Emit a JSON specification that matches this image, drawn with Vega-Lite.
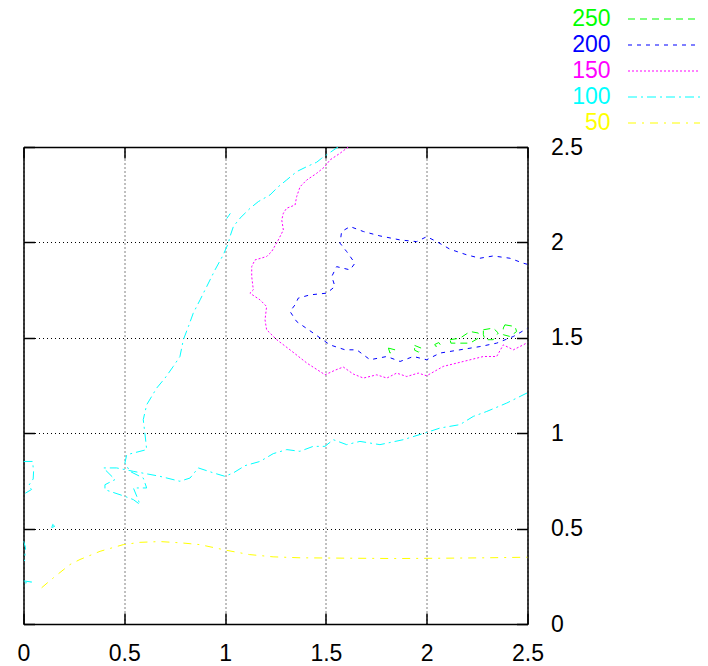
{
  "$schema": "https://vega.github.io/schema/vega-lite/v6.json",
  "width": 504,
  "height": 477,
  "autosize": {"type": "none"},
  "padding": {"left": 23.5, "top": 147, "right": 180.5, "bottom": 42},
  "background": "white",
  "config": {
    "font": "Liberation Sans",
    "view": {"stroke": null},
    "axis": {
      "domainColor": "#000", "domainWidth": 1.5,
      "tickColor": "#000", "tickWidth": 1.5, "tickSize": -11,
      "labelColor": "#000", "labelFontSize": 23, "labelFont": "Liberation Sans",
      "labelFlush": false, "title": null,
      "gridColor": "#000", "gridDash": [1, 3], "gridWidth": 1, "gridOpacity": 1
    }
  },
  "data": {"values": [
    {"k":"250","p":"g1","i":0,"x":1.81,"y":1.446},{"k":"250","p":"g1","i":1,"x":1.843,"y":1.437},{"k":"250","p":"g1","i":2,"x":1.818,"y":1.42},{"k":"250","p":"g1","i":3,"x":1.81,"y":1.446},
    {"k":"250","p":"g2","i":0,"x":1.94,"y":1.46},{"k":"250","p":"g2","i":1,"x":1.975,"y":1.445},{"k":"250","p":"g2","i":2,"x":1.96,"y":1.425},{"k":"250","p":"g2","i":3,"x":1.94,"y":1.435},{"k":"250","p":"g2","i":4,"x":1.94,"y":1.46},
    {"k":"250","p":"g3","i":0,"x":2.04,"y":1.465},{"k":"250","p":"g3","i":1,"x":2.06,"y":1.475},{"k":"250","p":"g3","i":2,"x":2.07,"y":1.46},{"k":"250","p":"g3","i":3,"x":2.045,"y":1.455},{"k":"250","p":"g3","i":4,"x":2.04,"y":1.465},
    {"k":"250","p":"g4","i":0,"x":2.116,"y":1.49},{"k":"250","p":"g4","i":1,"x":2.165,"y":1.498},{"k":"250","p":"g4","i":2,"x":2.215,"y":1.533},{"k":"250","p":"g4","i":3,"x":2.256,"y":1.525},{"k":"250","p":"g4","i":4,"x":2.256,"y":1.498},{"k":"250","p":"g4","i":5,"x":2.215,"y":1.472},{"k":"250","p":"g4","i":6,"x":2.165,"y":1.472},{"k":"250","p":"g4","i":7,"x":2.12,"y":1.472},{"k":"250","p":"g4","i":8,"x":2.116,"y":1.49},
    {"k":"250","p":"g5","i":0,"x":2.281,"y":1.542},{"k":"250","p":"g5","i":1,"x":2.33,"y":1.551},{"k":"250","p":"g5","i":2,"x":2.355,"y":1.525},{"k":"250","p":"g5","i":3,"x":2.33,"y":1.49},{"k":"250","p":"g5","i":4,"x":2.289,"y":1.49},{"k":"250","p":"g5","i":5,"x":2.281,"y":1.516},{"k":"250","p":"g5","i":6,"x":2.281,"y":1.542},
    {"k":"250","p":"g6","i":0,"x":2.388,"y":1.568},{"k":"250","p":"g6","i":1,"x":2.438,"y":1.559},{"k":"250","p":"g6","i":2,"x":2.446,"y":1.533},{"k":"250","p":"g6","i":3,"x":2.413,"y":1.507},{"k":"250","p":"g6","i":4,"x":2.38,"y":1.516},{"k":"250","p":"g6","i":5,"x":2.38,"y":1.551},{"k":"250","p":"g6","i":6,"x":2.388,"y":1.568},

    {"k":"200","p":"b1","i":0,"x":2.5,"y":1.885},{"k":"200","p":"b1","i":1,"x":2.479,"y":1.891},{"k":"200","p":"b1","i":2,"x":2.413,"y":1.917},{"k":"200","p":"b1","i":3,"x":2.33,"y":1.929},{"k":"200","p":"b1","i":4,"x":2.264,"y":1.917},{"k":"200","p":"b1","i":5,"x":2.198,"y":1.935},{"k":"200","p":"b1","i":6,"x":2.116,"y":1.964},{"k":"200","p":"b1","i":7,"x":2.05,"y":2.004},{"k":"200","p":"b1","i":8,"x":2.0,"y":2.03},{"k":"200","p":"b1","i":9,"x":1.95,"y":2.004},{"k":"200","p":"b1","i":10,"x":1.868,"y":2.013},{"k":"200","p":"b1","i":11,"x":1.768,"y":2.034},{"k":"200","p":"b1","i":12,"x":1.686,"y":2.057},{"k":"200","p":"b1","i":13,"x":1.62,"y":2.083},{"k":"200","p":"b1","i":14,"x":1.578,"y":2.057},{"k":"200","p":"b1","i":15,"x":1.57,"y":1.996},{"k":"200","p":"b1","i":16,"x":1.603,"y":1.952},{"k":"200","p":"b1","i":17,"x":1.644,"y":1.891},{"k":"200","p":"b1","i":18,"x":1.62,"y":1.856},{"k":"200","p":"b1","i":19,"x":1.553,"y":1.873},{"k":"200","p":"b1","i":20,"x":1.529,"y":1.821},{"k":"200","p":"b1","i":21,"x":1.545,"y":1.769},{"k":"200","p":"b1","i":22,"x":1.504,"y":1.734},{"k":"200","p":"b1","i":23,"x":1.421,"y":1.725},{"k":"200","p":"b1","i":24,"x":1.363,"y":1.708},{"k":"200","p":"b1","i":25,"x":1.347,"y":1.673},{"k":"200","p":"b1","i":26,"x":1.322,"y":1.638},{"k":"200","p":"b1","i":27,"x":1.355,"y":1.585},{"k":"200","p":"b1","i":28,"x":1.437,"y":1.525},{"k":"200","p":"b1","i":29,"x":1.52,"y":1.463},{"k":"200","p":"b1","i":30,"x":1.595,"y":1.437},{"k":"200","p":"b1","i":31,"x":1.653,"y":1.437},{"k":"200","p":"b1","i":32,"x":1.719,"y":1.385},{"k":"200","p":"b1","i":33,"x":1.802,"y":1.402},{"k":"200","p":"b1","i":34,"x":1.868,"y":1.376},{"k":"200","p":"b1","i":35,"x":1.934,"y":1.402},{"k":"200","p":"b1","i":36,"x":2.0,"y":1.385},{"k":"200","p":"b1","i":37,"x":2.066,"y":1.42},{"k":"200","p":"b1","i":38,"x":2.165,"y":1.437},{"k":"200","p":"b1","i":39,"x":2.264,"y":1.454},{"k":"200","p":"b1","i":40,"x":2.347,"y":1.472},{"k":"200","p":"b1","i":41,"x":2.43,"y":1.507},{"k":"200","p":"b1","i":42,"x":2.5,"y":1.55},

    {"k":"150","p":"m1","i":0,"x":1.611,"y":2.5},{"k":"150","p":"m1","i":1,"x":1.57,"y":2.467},{"k":"150","p":"m1","i":2,"x":1.52,"y":2.432},{"k":"150","p":"m1","i":3,"x":1.495,"y":2.397},{"k":"150","p":"m1","i":4,"x":1.454,"y":2.362},{"k":"150","p":"m1","i":5,"x":1.405,"y":2.327},{"k":"150","p":"m1","i":6,"x":1.372,"y":2.292},{"k":"150","p":"m1","i":7,"x":1.355,"y":2.24},{"k":"150","p":"m1","i":8,"x":1.347,"y":2.196},{"k":"150","p":"m1","i":9,"x":1.305,"y":2.179},{"k":"150","p":"m1","i":10,"x":1.289,"y":2.153},{"k":"150","p":"m1","i":11,"x":1.281,"y":2.118},{"k":"150","p":"m1","i":12,"x":1.289,"y":2.065},{"k":"150","p":"m1","i":13,"x":1.264,"y":2.013},{"k":"150","p":"m1","i":14,"x":1.231,"y":1.952},{"k":"150","p":"m1","i":15,"x":1.206,"y":1.926},{"k":"150","p":"m1","i":16,"x":1.148,"y":1.908},{"k":"150","p":"m1","i":17,"x":1.132,"y":1.873},{"k":"150","p":"m1","i":18,"x":1.132,"y":1.821},{"k":"150","p":"m1","i":19,"x":1.14,"y":1.751},{"k":"150","p":"m1","i":20,"x":1.123,"y":1.734},{"k":"150","p":"m1","i":21,"x":1.173,"y":1.699},{"k":"150","p":"m1","i":22,"x":1.206,"y":1.664},{"k":"150","p":"m1","i":23,"x":1.198,"y":1.594},{"k":"150","p":"m1","i":24,"x":1.206,"y":1.542},{"k":"150","p":"m1","i":25,"x":1.256,"y":1.49},{"k":"150","p":"m1","i":26,"x":1.322,"y":1.437},{"k":"150","p":"m1","i":27,"x":1.405,"y":1.368},{"k":"150","p":"m1","i":28,"x":1.496,"y":1.306},{"k":"150","p":"m1","i":29,"x":1.545,"y":1.33},{"k":"150","p":"m1","i":30,"x":1.586,"y":1.347},{"k":"150","p":"m1","i":31,"x":1.636,"y":1.31},{"k":"150","p":"m1","i":32,"x":1.686,"y":1.289},{"k":"150","p":"m1","i":33,"x":1.752,"y":1.306},{"k":"150","p":"m1","i":34,"x":1.802,"y":1.289},{"k":"150","p":"m1","i":35,"x":1.851,"y":1.315},{"k":"150","p":"m1","i":36,"x":1.901,"y":1.297},{"k":"150","p":"m1","i":37,"x":1.958,"y":1.315},{"k":"150","p":"m1","i":38,"x":2.0,"y":1.301},{"k":"150","p":"m1","i":39,"x":2.082,"y":1.35},{"k":"150","p":"m1","i":40,"x":2.182,"y":1.376},{"k":"150","p":"m1","i":41,"x":2.281,"y":1.402},{"k":"150","p":"m1","i":42,"x":2.347,"y":1.402},{"k":"150","p":"m1","i":43,"x":2.38,"y":1.463},{"k":"150","p":"m1","i":44,"x":2.43,"y":1.437},{"k":"150","p":"m1","i":45,"x":2.479,"y":1.463},{"k":"150","p":"m1","i":46,"x":2.5,"y":1.475},

    {"k":"100","p":"c1","i":0,"x":1.56,"y":2.5},{"k":"100","p":"c1","i":1,"x":1.479,"y":2.441},{"k":"100","p":"c1","i":2,"x":1.454,"y":2.42},{"k":"100","p":"c1","i":3,"x":1.405,"y":2.397},{"k":"100","p":"c1","i":4,"x":1.355,"y":2.371},{"k":"100","p":"c1","i":5,"x":1.305,"y":2.327},{"k":"100","p":"c1","i":6,"x":1.264,"y":2.292},{"k":"100","p":"c1","i":7,"x":1.223,"y":2.249},{"k":"100","p":"c1","i":8,"x":1.165,"y":2.214},{"k":"100","p":"c1","i":9,"x":1.124,"y":2.179},{"k":"100","p":"c1","i":10,"x":1.074,"y":2.127},{"k":"100","p":"c1","i":11,"x":1.041,"y":2.083},{"k":"100","p":"c1","i":12,"x":1.024,"y":2.03},{"k":"100","p":"c1","i":13,"x":1.016,"y":1.996},{"k":"100","p":"c1","i":14,"x":0.991,"y":1.935},{"k":"100","p":"c1","i":15,"x":0.95,"y":1.856},{"k":"100","p":"c1","i":16,"x":0.942,"y":1.839},{"k":"100","p":"c1","i":17,"x":0.909,"y":1.769},{"k":"100","p":"c1","i":18,"x":0.876,"y":1.699},{"k":"100","p":"c1","i":19,"x":0.842,"y":1.629},{"k":"100","p":"c1","i":20,"x":0.818,"y":1.559},{"k":"100","p":"c1","i":21,"x":0.793,"y":1.49},{"k":"100","p":"c1","i":22,"x":0.776,"y":1.402},{"k":"100","p":"c1","i":23,"x":0.743,"y":1.35},{"k":"100","p":"c1","i":24,"x":0.702,"y":1.289},{"k":"100","p":"c1","i":25,"x":0.661,"y":1.237},{"k":"100","p":"c1","i":26,"x":0.636,"y":1.193},{"k":"100","p":"c1","i":27,"x":0.611,"y":1.149},{"k":"100","p":"c1","i":28,"x":0.594,"y":1.071},{"k":"100","p":"c1","i":29,"x":0.603,"y":0.992},{"k":"100","p":"c1","i":30,"x":0.611,"y":0.914},{"k":"100","p":"c1","i":31,"x":0.512,"y":0.887},{"k":"100","p":"c1","i":32,"x":0.503,"y":0.844},{"k":"100","p":"c1","i":33,"x":0.528,"y":0.8},{"k":"100","p":"c1","i":34,"x":0.594,"y":0.765},{"k":"100","p":"c1","i":35,"x":0.611,"y":0.713},{"k":"100","p":"c1","i":36,"x":0.545,"y":0.713},{"k":"100","p":"c1","i":37,"x":0.562,"y":0.669},{"k":"100","p":"c1","i":38,"x":0.578,"y":0.626},{"k":"100","p":"c1","i":39,"x":0.545,"y":0.652},{"k":"100","p":"c1","i":40,"x":0.503,"y":0.669},{"k":"100","p":"c1","i":41,"x":0.404,"y":0.704},{"k":"100","p":"c1","i":42,"x":0.404,"y":0.73},{"k":"100","p":"c1","i":43,"x":0.454,"y":0.757},{"k":"100","p":"c1","i":44,"x":0.396,"y":0.818},{"k":"100","p":"c1","i":45,"x":0.462,"y":0.818},{"k":"100","p":"c1","i":46,"x":0.545,"y":0.8},{"k":"100","p":"c1","i":47,"x":0.677,"y":0.774},{"k":"100","p":"c1","i":48,"x":0.776,"y":0.748},{"k":"100","p":"c1","i":49,"x":0.826,"y":0.765},{"k":"100","p":"c1","i":50,"x":0.867,"y":0.818},{"k":"100","p":"c1","i":51,"x":0.942,"y":0.792},{"k":"100","p":"c1","i":52,"x":0.999,"y":0.774},{"k":"100","p":"c1","i":53,"x":1.041,"y":0.792},{"k":"100","p":"c1","i":54,"x":1.099,"y":0.83},{"k":"100","p":"c1","i":55,"x":1.173,"y":0.852},{"k":"100","p":"c1","i":56,"x":1.239,"y":0.893},{"k":"100","p":"c1","i":57,"x":1.306,"y":0.914},{"k":"100","p":"c1","i":58,"x":1.371,"y":0.905},{"k":"100","p":"c1","i":59,"x":1.437,"y":0.931},{"k":"100","p":"c1","i":60,"x":1.495,"y":0.931},{"k":"100","p":"c1","i":61,"x":1.537,"y":0.966},{"k":"100","p":"c1","i":62,"x":1.603,"y":0.94},{"k":"100","p":"c1","i":63,"x":1.669,"y":0.957},{"k":"100","p":"c1","i":64,"x":1.768,"y":0.94},{"k":"100","p":"c1","i":65,"x":1.884,"y":0.966},{"k":"100","p":"c1","i":66,"x":2.0,"y":1.004},{"k":"100","p":"c1","i":67,"x":2.066,"y":1.027},{"k":"100","p":"c1","i":68,"x":2.165,"y":1.045},{"k":"100","p":"c1","i":69,"x":2.231,"y":1.088},{"k":"100","p":"c1","i":70,"x":2.298,"y":1.114},{"k":"100","p":"c1","i":71,"x":2.397,"y":1.158},{"k":"100","p":"c1","i":72,"x":2.5,"y":1.212},
    {"k":"100","p":"c2","i":0,"x":1.008,"y":2.125},{"k":"100","p":"c2","i":1,"x":1.018,"y":2.14},{"k":"100","p":"c2","i":2,"x":1.026,"y":2.152},
    {"k":"100","p":"c3","i":0,"x":0.0,"y":0.852},{"k":"100","p":"c3","i":1,"x":0.045,"y":0.852},{"k":"100","p":"c3","i":2,"x":0.05,"y":0.8},{"k":"100","p":"c3","i":3,"x":0.048,"y":0.76},{"k":"100","p":"c3","i":4,"x":0.025,"y":0.725},{"k":"100","p":"c3","i":5,"x":0.04,"y":0.705},{"k":"100","p":"c3","i":6,"x":0.0,"y":0.68},
    {"k":"100","p":"c4","i":0,"x":0.14,"y":0.505},{"k":"100","p":"c4","i":1,"x":0.145,"y":0.522},{"k":"100","p":"c4","i":2,"x":0.155,"y":0.512},{"k":"100","p":"c4","i":3,"x":0.14,"y":0.505},
    {"k":"100","p":"c5","i":0,"x":0.0,"y":0.435},{"k":"100","p":"c5","i":1,"x":0.01,"y":0.4},{"k":"100","p":"c5","i":2,"x":0.005,"y":0.33},
    {"k":"100","p":"c6","i":0,"x":0.0,"y":0.226},{"k":"100","p":"c6","i":1,"x":0.04,"y":0.22},{"k":"100","p":"c6","i":2,"x":0.0,"y":0.214},

    {"k":"50","p":"y1","i":0,"x":0.09,"y":0.19},{"k":"50","p":"y1","i":1,"x":0.148,"y":0.242},{"k":"50","p":"y1","i":2,"x":0.231,"y":0.312},{"k":"50","p":"y1","i":3,"x":0.28,"y":0.338},{"k":"50","p":"y1","i":4,"x":0.38,"y":0.381},{"k":"50","p":"y1","i":5,"x":0.495,"y":0.416},{"k":"50","p":"y1","i":6,"x":0.578,"y":0.428},{"k":"50","p":"y1","i":7,"x":0.677,"y":0.432},{"k":"50","p":"y1","i":8,"x":0.785,"y":0.425},{"k":"50","p":"y1","i":9,"x":0.875,"y":0.416},{"k":"50","p":"y1","i":10,"x":1.008,"y":0.386},{"k":"50","p":"y1","i":11,"x":1.12,"y":0.364},{"k":"50","p":"y1","i":12,"x":1.238,"y":0.352},{"k":"50","p":"y1","i":13,"x":1.372,"y":0.347},{"k":"50","p":"y1","i":14,"x":1.6,"y":0.345},{"k":"50","p":"y1","i":15,"x":1.85,"y":0.343},{"k":"50","p":"y1","i":16,"x":2.1,"y":0.345},{"k":"50","p":"y1","i":17,"x":2.3,"y":0.347},{"k":"50","p":"y1","i":18,"x":2.5,"y":0.35}
  ]},
  "layer": [
    {
      "mark": {"type": "line", "strokeWidth": 1, "clip": true},
      "encoding": {
        "x": {"field": "x", "type": "quantitative",
              "scale": {"domain": [0, 2.5], "nice": false, "zero": false},
              "axis": {"orient": "bottom", "values": [0, 0.5, 1, 1.5, 2, 2.5], "format": "~g", "grid": true, "labelPadding": 29}},
        "y": {"field": "y", "type": "quantitative",
              "scale": {"domain": [0, 2.5], "nice": false, "zero": false},
              "axis": {"orient": "right", "values": [0, 0.5, 1, 1.5, 2, 2.5], "format": "~g", "grid": true, "labelAlign": "left", "labelBaseline": "middle", "labelPadding": 34}},
        "detail": {"field": "p"},
        "order": {"field": "i", "type": "quantitative"},
        "color": {"field": "k", "type": "nominal",
                  "scale": {"domain": ["250", "200", "150", "100", "50"], "range": ["#00ff00", "#0000ff", "#ff00ff", "#00ffff", "#ffff00"]},
                  "legend": {"orient": "none", "legendX": 593, "legendY": -139.5, "title": null,
                             "symbolType": "M0,0H18", "symbolSize": 64, "symbolStrokeWidth": 1.2,
                             "labelFontSize": 23, "labelFont": "Liberation Sans", "labelAlign": "right", "labelBaseline": "middle",
                             "labelOffset": -29, "rowPadding": 2, "padding": 0, "offset": 0,
                             "encode": {"labels": {"update": {"fill": {"scale": "color", "field": "value"}}}}}},
        "strokeDash": {"field": "k", "type": "nominal",
                       "scale": {"domain": ["250", "200", "150", "100", "50"], "range": [[7, 5], [4, 5], [2, 2], [9, 4, 2, 4], [8, 6, 2, 6]]}}
      }
    },
    {
      "mark": {"type": "point", "opacity": 0},
      "encoding": {
        "x": {"field": "x", "type": "quantitative",
              "axis": {"orient": "top", "values": [0, 0.5, 1, 1.5, 2, 2.5], "labels": false, "grid": false}},
        "y": {"field": "y", "type": "quantitative",
              "axis": {"orient": "left", "values": [0, 0.5, 1, 1.5, 2, 2.5], "labels": false, "grid": false}}
      }
    }
  ],
  "resolve": {"axis": {"x": "independent", "y": "independent"}}
}
